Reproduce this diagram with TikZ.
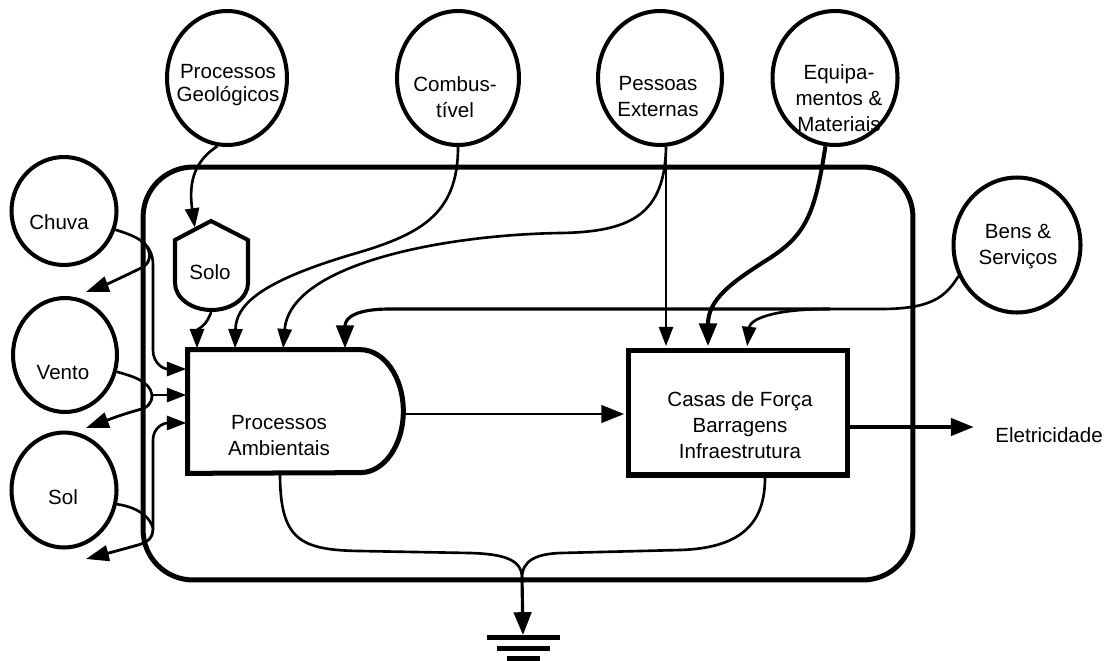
\documentclass[tikz,border=0pt]{standalone}
\usepackage{fontspec}
\setmainfont{Liberation Sans}
\usetikzlibrary{arrows.meta,shapes.geometric}
\begin{document}
\begin{tikzpicture}[x=0.02cm,y=-0.02cm,
  font=\fontsize{11.7}{14.8}\selectfont,
  src/.style={draw, ellipse, line width=2.3pt, inner sep=0pt},
  wall/.style={line width=2.85pt},
  txt/.style={align=center, inner sep=0pt},
  line/.style={line width=1.5pt},
  flow/.style={line width=1.5pt, shorten >=0.8pt, -{Triangle[length=11pt,width=8pt]}},
  bigflow/.style={line width=1.8pt, shorten >=0.8pt, -{Triangle[length=13pt,width=10pt]}},
  outflow/.style={line width=1.6pt, -{Triangle[length=13pt,width=9pt]}},
]
\useasboundingbox (0,0) rectangle (1115,660);

% system boundary
\node[draw, wall, rounded corners=1cm, minimum width=15.4cm, minimum height=8.26cm, inner sep=0pt] (sys) at (528,373.5) {};

% external sources
\node[src, minimum width=2.4cm, minimum height=2.68cm] (geo) at (227,78) {};
\node[txt, font=\fontsize{11.7}{13.1}\selectfont] (geo-t) at (228,85) {Processos\\Geológicos};
\node[src, minimum width=2.44cm, minimum height=2.68cm] (comb) at (458,78) {};
\node[txt] (comb-t) at (455,97) {Combus-\\tível};
\node[src, minimum width=2.48cm, minimum height=2.68cm] (pess) at (660,78) {};
\node[txt] (pess-t) at (658,97) {Pessoas\\Externas};
\node[src, minimum width=2.5cm, minimum height=2.68cm] (equip) at (835,78) {};
\node[txt] (equip-t) at (839,98) {Equipa-\\mentos \&\\Materiais};
\node[src, minimum width=2.54cm, minimum height=2.7cm] (bens) at (1017,245) {};
\node[txt] (bens-t) at (1018,247) {Bens \&\\Serviços};
\node[src, minimum width=2.1cm, minimum height=2.16cm] (chuva) at (64,211) {};
\node[txt] (chuva-t) at (59,222) {Chuva};
\node[src, minimum width=2.08cm, minimum height=2.28cm] (vento) at (65,355) {};
\node[txt] (vento-t) at (63,373) {Vento};
\node[src, minimum width=2.1cm, minimum height=2.3cm] (sol) at (64,490) {};
\node[txt] (sol-t) at (63,497) {Sol};

% soil storage tank
\node[minimum width=1.46cm, minimum height=1.78cm, inner sep=0pt] (solo) at (211.5,265.5) {};
\draw[line width=2.3pt] (175,240) -- (211,221) -- (248,240) -- (248,283)
  arc[start angle=0, end angle=-180, x radius=0.73cm, y radius=0.54cm] -- cycle;
\node[txt] (solo-t) at (210,272) {Solo};

% environmental processes (producer shape)
\node[minimum width=4.3cm, minimum height=2.46cm, inner sep=0pt] (pa) at (295.5,411.5) {};
\draw[wall] (pa.north west) -- ([xshift=-0.86cm]pa.north east)
  arc[start angle=90, end angle=-90, x radius=0.86cm, y radius=1.23cm]
  -- (pa.south west) -- cycle;
\node[txt] (pa-t) at (279,436) {Processos\\Ambientais};

% power houses
\node[draw, wall, minimum width=4.4cm, minimum height=2.5cm, inner sep=0pt] (casas) at (738,412.5) {};
\node[txt] (casas-t) at (740,425) {Casas de Força\\Barragens\\Infraestrutura};

% output label
\node[anchor=west, inner xsep=0.4cm, inner ysep=0pt] (elet) at (975,435) {Eletricidade};

% heat sink
\coordinate (gj) at (522,578);
\node[minimum width=1.46cm, minimum height=0.45cm, inner sep=0pt] (gnd) at (523,648) {};
\draw[wall] (487,637) -- (560,637) (497,648) -- (550,648) (507,658) -- (540,658);

% geology feeds the soil
\coordinate (solo-in) at (195,229);
\draw[flow] (geo.262) .. controls (196,160) and (188,180) .. (solo-in);
\draw[flow] (solo.south) .. controls (208,325) and (197,330) .. (197,0 |- pa.north);

% fuel
\draw[flow] (comb.south) .. controls (458,215) and (420,235) .. (350,255)
  .. controls (260,282) and (236,305) .. (235,0 |- pa.north);

% external people
\draw[flow] (pess.275) -- (pess.275 |- casas.north);
\draw[flow] (pess.275) .. controls (665,215) and (630,232) .. (560,233)
  .. controls (440,235) and (290,265) .. (283,0 |- pa.north);

% goods and services
\coordinate (bens-split) at (830,309);
\draw[line] (bens.208) .. controls (945,298) and (930,309) .. (880,309) -- (bens-split);
\draw[bigflow] (bens-split) -- (390,309) .. controls (355,309) and (345,318) .. (345,0 |- pa.north);
\draw[flow] (bens-split) .. controls (770,309) and (750,320) .. (747,0 |- casas.north);

% equipment and materials
\draw[bigflow, line width=2.3pt] (equip.262) .. controls (815,215) and (805,235) .. (770,258)
  .. controls (730,283) and (708,300) .. (708,0 |- casas.north);

% rain
\coordinate (rain-j) at (141,241);
\coordinate (rain-out) at (86,292);
\draw[flow] (chuva.340) .. controls (135,236) and (153,242) .. (153,265) -- (153,350)
  .. controls (153,363) and (163,369) .. (pa.west |- 0,369);
\draw[outflow] (rain-j) .. controls (151,247) and (153,261) .. (143,267)
  .. controls (125,276) and (105,285) .. (rain-out);

% wind
\coordinate (wind-j) at (152,395);
\coordinate (wind-out) at (86,428);
\draw[line] (vento.342) .. controls (132,376) and (150,381) .. (wind-j);
\draw[flow] (wind-j) -- (pa.west |- wind-j);
\draw[outflow] (wind-j) .. controls (152,404) and (147,408) .. (138,410)
  .. controls (120,415) and (105,421) .. (wind-out);

% sun
\coordinate (sun-j) at (153,528);
\coordinate (sun-out) at (86,559);
\draw[line] (sol.345) .. controls (130,506) and (148,512) .. (sun-j);
\draw[flow] (sun-j) -- (153,440) .. controls (153,428) and (163,423) .. (pa.west |- 0,423);
\draw[outflow] (sun-j) .. controls (153,538) and (148,542) .. (138,545)
  .. controls (120,550) and (105,554) .. (sun-out);

% production and output
\draw[bigflow, line width=1.6pt] (pa.east |- 0,414) -- (casas.west |- 0,414);
\draw[bigflow] (casas.east |- 0,427) -- (elet.west |- 0,427);

% losses to the heat sink
\draw[line] (280,0 |- pa.south) .. controls (280,540) and (300,550) .. (360,551) -- (470,553)
  .. controls (505,554) and (522,560) .. (gj);
\draw[line] (765,0 |- casas.south) .. controls (765,520) and (745,548) .. (680,550) -- (560,553)
  .. controls (537,554) and (522,560) .. (gj);
\draw[bigflow] (gj) -- (gnd.north);
\end{tikzpicture}
\end{document}
